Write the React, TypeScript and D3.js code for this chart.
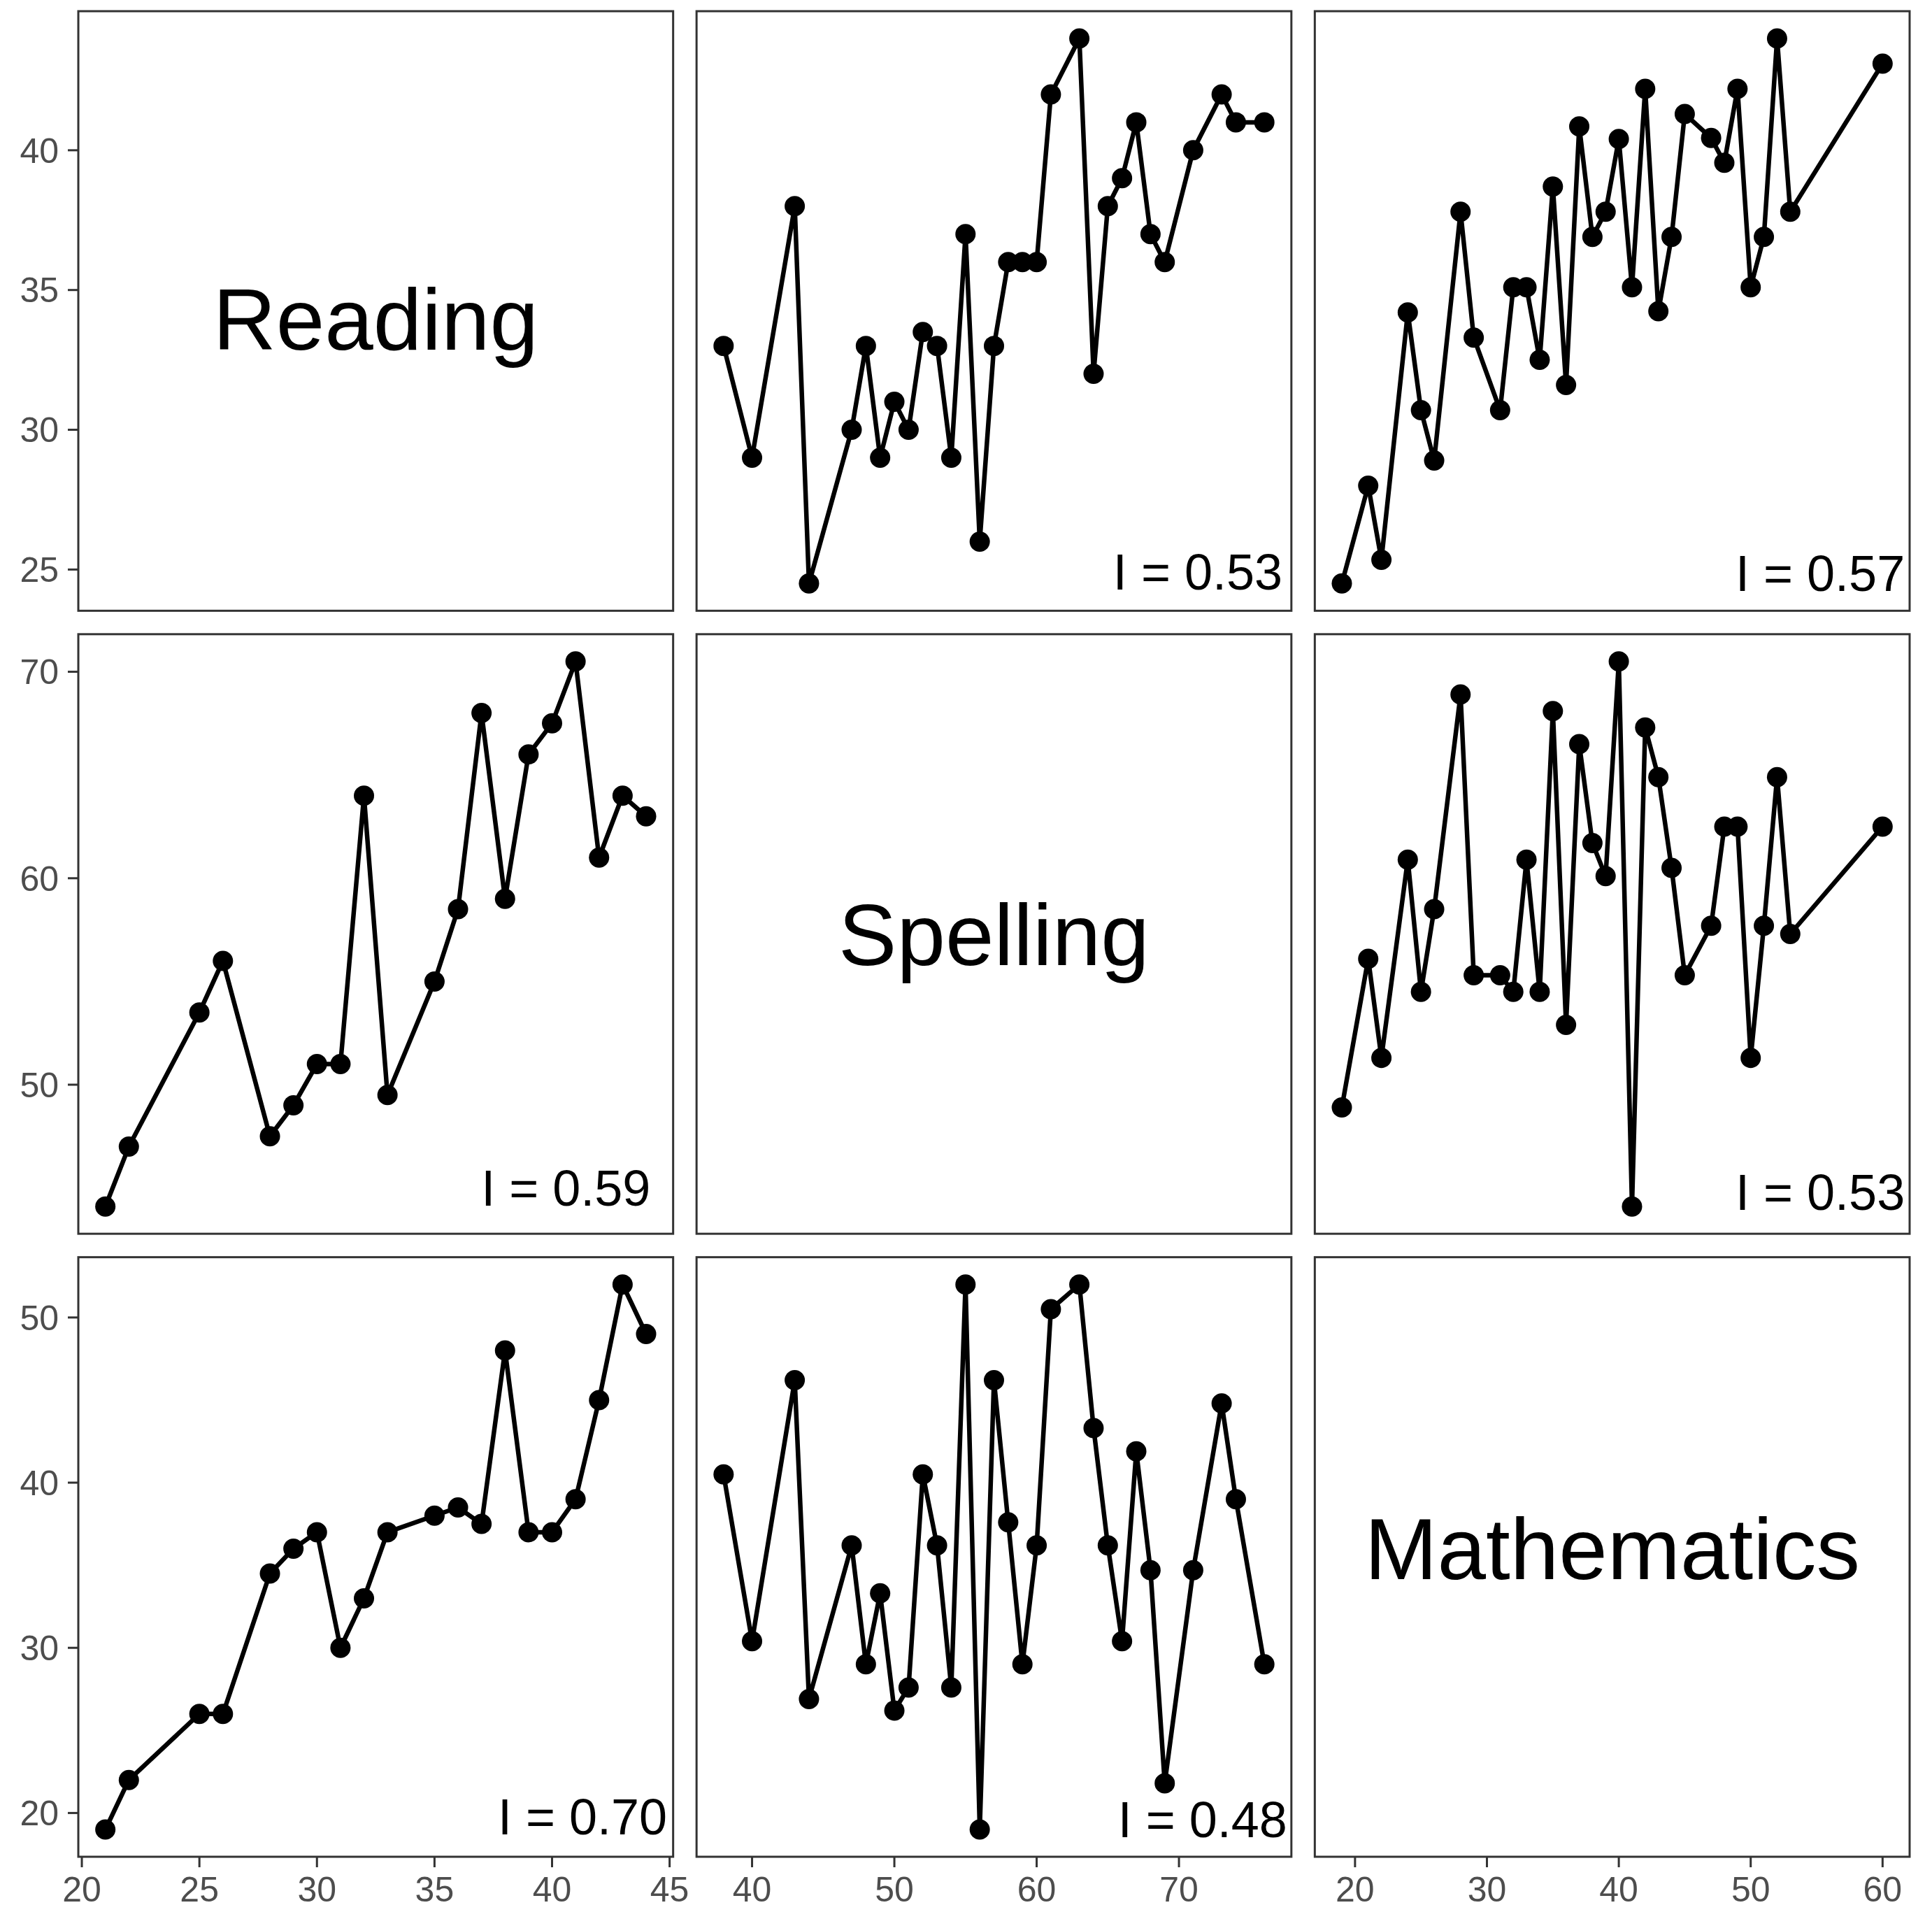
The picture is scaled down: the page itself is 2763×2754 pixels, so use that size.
import * as d3 from "d3";

// variable names (diagonal captions)
const variables = ["Reading", "Spelling", "Mathematics"];

// x values shared by every panel in a column
const readingX = [21, 22, 25, 26, 28, 29, 30, 31, 32, 33, 35, 36, 37, 38, 39, 40, 41, 42, 43, 44];
const spellingX = [38, 40, 43, 44, 47, 48, 49, 50, 51, 52, 53, 54, 55, 56, 57, 58, 59, 60, 61, 63, 64, 65, 66, 67, 68, 69, 71, 73, 74, 76];
const mathX = [19, 21, 22, 24, 25, 26, 28, 29, 31, 32, 33, 34, 35, 36, 37, 38, 39, 40, 41, 42, 43, 44, 45, 47, 48, 49, 50, 51, 52, 53, 60];

// y values, one array per off-diagonal panel
const readingBySpelling = [33, 29, 38, 24.5, 30, 33, 29, 31, 30, 33.5, 33, 29, 37, 26, 33, 36, 36, 36, 42, 44, 32, 38, 39, 41, 37, 36, 40, 42, 41, 41];
const readingByMath = [24.5, 28, 25.35, 34.2, 30.7, 28.9, 37.8, 33.3, 30.7, 35.1, 35.1, 32.5, 38.7, 31.6, 40.85, 36.9, 37.8, 40.4, 35.1, 42.2, 34.24, 36.9, 41.3, 40.44, 39.55, 42.2, 35.1, 36.9, 44, 37.8, 43.1];
const spellingByReading = [44.1, 47, 53.5, 56, 47.5, 49, 51, 51, 64, 49.5, 55, 58.5, 68, 59, 66, 67.5, 70.5, 61, 64, 63];
const spellingByMath = [48.9, 56.1, 51.3, 60.9, 54.5, 58.5, 68.9, 55.3, 55.3, 54.5, 60.9, 54.5, 68.1, 52.9, 66.5, 61.7, 60.1, 70.5, 44.1, 67.3, 64.9, 60.5, 55.3, 57.7, 62.5, 62.5, 51.3, 57.7, 64.9, 57.3, 62.5];
const mathByReading = [19, 22, 26, 26, 34.5, 36, 37, 30, 33, 37, 38, 38.5, 37.5, 48, 37, 37, 39, 45, 52, 49];
const mathBySpelling = [40.5, 30.4, 46.2, 26.9, 36.2, 29, 33.3, 26.2, 27.6, 40.5, 36.2, 27.6, 52, 19, 46.2, 37.6, 29, 36.2, 50.5, 52, 43.3, 36.2, 30.4, 41.9, 34.7, 21.8, 34.7, 44.8, 39, 29];

// tick labels
const xTicks = [
  [20, 25, 30, 35, 40, 45],
  [40, 50, 60, 70],
  [20, 30, 40, 50, 60],
];
const yTicks = [
  [25, 30, 35, 40],
  [50, 60, 70],
  [20, 30, 40, 50],
];

// correlation captions
const corrLabels = [
  { row: 0, col: 1, text: "I = 0.53" },
  { row: 0, col: 2, text: "I = 0.57" },
  { row: 1, col: 0, text: "I = 0.59" },
  { row: 1, col: 2, text: "I = 0.53" },
  { row: 2, col: 0, text: "I = 0.70" },
  { row: 2, col: 1, text: "I = 0.48" },
];

const columnX = [readingX, spellingX, mathX];
const panelY: Record<string, number[]> = {
  "0-1": readingBySpelling,
  "0-2": readingByMath,
  "1-0": spellingByReading,
  "1-2": spellingByMath,
  "2-0": mathByReading,
  "2-1": mathBySpelling,
};

// where each caption sits inside its panel (fraction of width, px above bottom)
const corrAnchor: Record<string, [number, number]> = {
  "0-1": [0.985, 30],
  "0-2": [0.992, 28],
  "1-0": [0.962, 40],
  "1-2": [0.992, 34],
  "2-0": [0.99, 32],
  "2-1": [0.993, 28],
};
// vertical nudge of the diagonal captions, px
const diagNudge = [10, 0, -13];

const FONT = "'Liberation Sans', Arial, Helvetica, sans-serif";

const expand = ([a, b]: number[]) => {
  const pad = (b - a) * 0.05;
  return [a - pad, b + pad];
};

export default function App() {
  const width = 2763;
  const height = 2754;
  const margin = { top: 16, right: 32, bottom: 99, left: 112 };
  const gap = 33.5;
  const panelW = (width - margin.left - margin.right - 2 * gap) / 3;
  const panelH = (height - margin.top - margin.bottom - 2 * gap) / 3;
  const tickLen = 15;
  const axisColor = "#333333";
  const tickTextColor = "#4d4d4d";

  const xScales = columnX.map((xs) =>
    d3.scaleLinear().domain(expand(d3.extent(xs) as number[])).range([0, panelW])
  );
  const yScales = [0, 1, 2].map((row) => {
    const all = [0, 1, 2].filter((c) => c !== row).flatMap((c) => panelY[`${row}-${c}`]);
    return d3.scaleLinear().domain(expand(d3.extent(all) as number[])).range([panelH, 0]);
  });

  const panelX = (col: number) => margin.left + col * (panelW + gap);
  const panelTop = (row: number) => margin.top + row * (panelH + gap);

  return (
    <svg
      width={width}
      height={height}
      viewBox={`0 0 ${width} ${height}`}
      style={{ position: "absolute", left: 0, top: 0, display: "block", background: "#fff" }}
      fontFamily={FONT}
    >
      <rect width={width} height={height} fill="#fff" />
      {[0, 1, 2].map((row) =>
        [0, 1, 2].map((col) => {
          const key = `${row}-${col}`;
          const xs = columnX[col];
          const ys = panelY[key];
          const x = xScales[col];
          const y = yScales[row];
          const pts = ys ? xs.map((v, i) => [v, ys[i]] as [number, number]) : [];
          const line = d3
            .line<[number, number]>()
            .x((d) => x(d[0]))
            .y((d) => y(d[1]));
          const corr = corrLabels.find((c) => c.row === row && c.col === col);
          const anchor = corrAnchor[key];
          return (
            <g key={key} transform={`translate(${panelX(col)},${panelTop(row)})`}>
              {row === col ? (
                <text
                  x={panelW / 2}
                  y={panelH / 2 + diagNudge[row]}
                  dy="0.36em"
                  textAnchor="middle"
                  fontSize={125}
                  fill="#000"
                >
                  {variables[row]}
                </text>
              ) : (
                <>
                  <path d={line(pts) ?? ""} fill="none" stroke="#000" strokeWidth={6.5} strokeLinejoin="round" />
                  {pts.map((d, i) => (
                    <circle key={i} cx={x(d[0])} cy={y(d[1])} r={14.5} fill="#000" />
                  ))}
                </>
              )}
              {corr && anchor && (
                <text
                  x={anchor[0] * panelW}
                  y={panelH - anchor[1]}
                  textAnchor="end"
                  fontSize={72}
                  fill="#000"
                >
                  {corr.text}
                </text>
              )}
              <rect width={panelW} height={panelH} fill="none" stroke={axisColor} strokeWidth={3} />

              {col === 0 &&
                yTicks[row].map((t) => (
                  <g key={`y-${t}`} transform={`translate(0,${y(t)})`}>
                    <line x1={-tickLen} x2={0} stroke={axisColor} strokeWidth={3} />
                    <text x={-tickLen - 13} dy="0.355em" textAnchor="end" fontSize={50} fill={tickTextColor}>
                      {t}
                    </text>
                  </g>
                ))}

              {row === 2 &&
                xTicks[col].map((t) => (
                  <g key={`x-${t}`} transform={`translate(${x(t)},${panelH})`}>
                    <line y1={0} y2={tickLen} stroke={axisColor} strokeWidth={3} />
                    <text y={tickLen + 49} textAnchor="middle" fontSize={50} fill={tickTextColor}>
                      {t}
                    </text>
                  </g>
                ))}
            </g>
          );
        })
      )}
    </svg>
  );
}
